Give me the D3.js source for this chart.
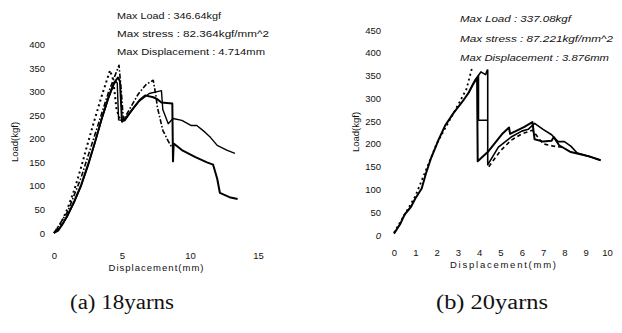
<!DOCTYPE html>
<html><head><meta charset="utf-8">
<script src="https://cdn.jsdelivr.net/npm/d3@7/dist/d3.min.js"></script>
<style>
body{margin:0;background:#fff;}
svg{display:block;}
text{font-family:"Liberation Sans",Arial,sans-serif;fill:#111;}
</style></head><body>
<script>
// ---------- data: (a) 18 yarns ----------
const leftXTicks = [0,5,10,15];
const leftYTicks = [0,50,100,150,200,250,300,350,400];
const leftHeader = ["Max Load : 346.64kgf","Max stress : 82.364kgf/mm^2","Max Displacement : 4.714mm"];
const leftA = [[0,0],[0.3,5],[0.7,22],[1,38],[1.5,68],[2,102],[2.5,145],[3,192],[3.5,242],[4,288],[4.4,318],[4.7,330],[4.85,322],[5.0,236],[5.3,245],[5.8,264],[6.3,282],[6.7,292],[7.3,288],[7.6,284],[7.9,277],[8.7,275],[8.75,152],[8.8,190],[9.4,176],[10.4,161],[11.25,150],[11.7,145],[12.0,115],[12.2,85],[12.9,76],[13.5,72]];
const leftB = [[0,0],[0.5,14],[1,36],[1.5,66],[2,100],[2.5,142],[3,190],[3.5,240],[4,285],[4.4,315],[4.55,322],[4.65,318],[4.75,240],[5.2,238],[5.6,255],[6.2,278],[7.0,296],[7.6,300],[7.9,302],[8.0,262],[8.4,232],[8.75,243],[9.4,239],[10.1,228],[10.5,228],[11.1,214],[11.5,203],[12,186],[12.7,176],[13.3,169]];
const leftC = [[0,0],[0.5,20],[1,52],[1.5,92],[2,140],[2.5,192],[3,242],[3.5,290],[4.12,345],[4.35,325],[4.6,262],[4.9,238]];
const leftD = [[0,0],[1,45],[2,118],[3,208],[4,298],[4.5,335],[4.78,356],[4.95,300],[5.1,240],[5.6,265],[6.2,295],[6.8,316],[7.3,324],[7.5,290],[7.6,267],[8.0,218],[8.4,195],[8.7,180]];

// ---------- data: (b) 20 yarns ----------
const rightXTicks = [0,1,2,3,4,5,6,7,8,9,10];
const rightYTicks = [0,50,100,150,200,250,300,350,400,450];
const rightHeader = ["Max Load : 337.08kgf","Max stress : 87.221kgf/mm^2","Max Displacement : 3.876mm"];
const rightA = [[0,3],[0.3,25],[0.5,45],[0.8,62],[1,80],[1.3,102],[1.5,135],[1.75,170],[2.1,210],[2.4,240],[2.8,268],[3.2,292],[3.5,312],[3.7,330],[3.9,345],[3.93,162],[4.4,182],[5.1,223],[5.4,236],[5.45,222],[6.1,237],[6.5,248],[6.6,210],[7.0,205],[7.4,207],[7.5,215],[7.75,197],[8.3,182],[8.7,178],[9.2,172],[9.7,164]];
const rightB = [[3.5,312],[3.8,340],[4.08,358],[4.3,352],[4.38,362],[4.4,362],[4.4,154],[4.9,193],[5.5,215],[6.0,228],[6.3,232],[6.6,245],[7.0,232],[7.4,220],[7.7,205],[8.0,205],[8.3,195],[8.6,180],[9.2,172],[9.7,164]];
const rightBox = [[3.97,352],[3.97,252],[4.38,252]];
const rightC = [[0,5],[1,85],[2,200],[3,285],[3.4,320],[3.66,366]];
const rightD = [[4.45,150],[5,185],[5.5,208],[6,222],[6.5,230],[7.0,200],[7.5,195],[8.0,192]];

const captions = ["(a)  18yarns","(b)  20yarns"];
const axisTitles = {x:"Displacement(mm)", y:"Load(kgf)"};

const svg = d3.select("body").append("svg").attr("width",622).attr("height",333);

function panel(cfg){
  const x = d3.scaleLinear().domain(cfg.xd).range(cfg.xr);
  const y = d3.scaleLinear().domain(cfg.yd).range(cfg.yr);
  const g = svg.append("g");
  const xa = g.append("g").attr("transform",`translate(0,${cfg.xLabY})`)
    .call(d3.axisBottom(x).tickValues(cfg.xt).tickSize(0).tickPadding(0).tickFormat(d3.format("d")));
  xa.select(".domain").remove();
  xa.selectAll("text").attr("font-size",cfg.fs).attr("fill","#111").attr("dy","0");
  const ya = g.append("g").attr("transform",`translate(${cfg.yLabX},0)`)
    .call(d3.axisLeft(y).tickValues(cfg.yt).tickSize(0).tickPadding(0).tickFormat(d3.format("d")));
  ya.select(".domain").remove();
  ya.selectAll("text").attr("font-size",cfg.fs).attr("fill","#111")
    .attr("font-style",(d)=> (cfg.italic0 && d===0) ? "italic":"normal");
  g.append("text").attr("x",cfg.xtX).attr("y",cfg.xtY).attr("text-anchor","middle")
    .attr("font-size",cfg.fs).attr("textLength",cfg.xtLen).text(axisTitles.x);
  g.append("text").attr("transform",`translate(${cfg.ytX},${cfg.ytY}) rotate(-90)`).attr("text-anchor","middle")
    .attr("font-size",cfg.fs).text(axisTitles.y);
  cfg.header.forEach((t,i)=>{
    g.append("text").attr("x",cfg.hx).attr("y",cfg.hy[i]).attr("font-size",cfg.fs)
      .attr("font-style",cfg.hItalic?"italic":"normal")
      .attr("textLength",cfg.hLen[i]).attr("lengthAdjust","spacingAndGlyphs").text(t);
  });
  const line = d3.line().x(d=>x(d[0])).y(d=>y(d[1]));
  cfg.series.forEach(s=>{
    g.append("path").datum(s.data).attr("d",line).attr("fill","none")
      .attr("stroke","#000").attr("stroke-width",s.w)
      .attr("stroke-dasharray",s.dash||null).attr("stroke-linejoin","round");
  });
}

panel({
  xd:[0,15], xr:[54,258], yd:[0,400], yr:[233,44.5],
  xt:leftXTicks, yt:leftYTicks, fs:9.5,
  xLabY:259, yLabX:45,
  xtX:156, xtY:271, xtLen:95, ytX:18, ytY:142,
  header:leftHeader, hx:117, hy:[19,37,55], hLen:[104,152,148], hItalic:false,
  series:[
    {data:leftC, w:2, dash:"2,3"},
    {data:leftD, w:1.6, dash:"5,2,1.5,2"},
    {data:leftB, w:1.4},
    {data:leftA, w:2}
  ]
});
panel({
  xd:[0,10], xr:[394,607], yd:[0,450], yr:[235,30],
  xt:rightXTicks, yt:rightYTicks, fs:9.5, italic0:true,
  xLabY:256, yLabX:381,
  xtX:503, xtY:268, xtLen:106, ytX:359, ytY:132,
  header:rightHeader, hx:460, hy:[22,42,61], hLen:[111,153,149], hItalic:true,
  series:[
    {data:rightC, w:1.8, dash:"2,3"},
    {data:rightD, w:1.6, dash:"4,3"},
    {data:rightBox, w:1.4},
    {data:rightB, w:1.6},
    {data:rightA, w:2}
  ]
});

const capX = [70, 436], capLen = [104, 112];
svg.selectAll(".caption").data(captions).enter().append("text")
  .attr("x",(d,i)=> capX[i]).attr("y",309)
  .attr("font-size",20)
  .attr("textLength",(d,i)=>capLen[i]).attr("lengthAdjust","spacingAndGlyphs")
  .style("font-family","'Liberation Serif','DejaVu Serif',serif")
  .text(d=>d);
</script>
</body></html>
